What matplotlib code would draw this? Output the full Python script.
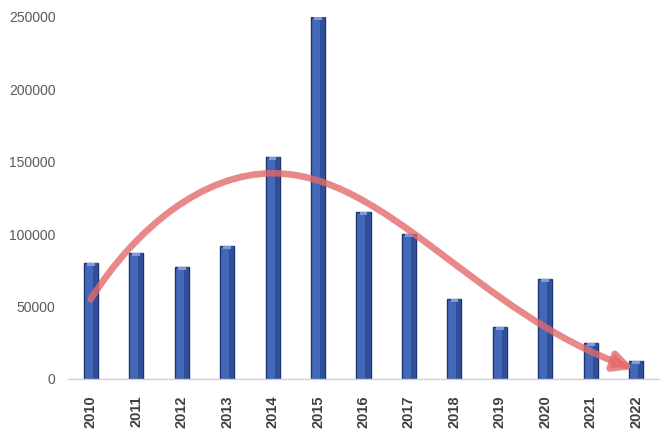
import matplotlib.pyplot as plt
from matplotlib.patches import FancyArrowPatch
from matplotlib.path import Path

years = ['2010', '2011', '2012', '2013', '2014', '2015', '2016',
         '2017', '2018', '2019', '2020', '2021', '2022']
values = [80000, 87000, 77500, 92000, 153000, 250000, 115500,
          100000, 55000, 35500, 69000, 25000, 12500]
y_ticks = [0, 50000, 100000, 150000, 200000, 250000]

# trend arrow drawn as two cubic bezier pieces (x in category index)
trend_pts = [(0.0, 55000), (1.0, 105000), (2.5, 142000), (4.0, 142000),
             (6.5, 142000), (8.5, 45000), (11.95, 7000)]

BAR_FACE = '#4468B8'
BAR_EDGE = '#1D3270'

plt.rcParams['font.family'] = ['Liberation Sans', 'DejaVu Sans']

fig = plt.figure(figsize=(6.67, 4.34), dpi=100)
ax = fig.add_axes([0.102, 0.127, 0.886, 0.834])

x = range(len(years))
width = 0.31
ax.bar(x, values, width=width, color=BAR_FACE, edgecolor=BAR_EDGE,
       linewidth=1.0, zorder=2)
# darker right side and a faint top bevel for a bit of depth
ax.bar([i + width * 0.32 for i in x], values, width=width * 0.36,
       color='#2F4F99', linewidth=0, zorder=2)
ax.bar(x, [2000] * len(values), bottom=[v - 2000 for v in values],
       width=width * 0.55, color='#7F9AD8', linewidth=0, zorder=3)

codes = [Path.MOVETO] + [Path.CURVE4] * 6
arrow = FancyArrowPatch(path=Path(trend_pts, codes), arrowstyle='-|>',
                        mutation_scale=28, color='#E36A6A', alpha=0.8,
                        linewidth=4.8, zorder=4, joinstyle='round',
                        capstyle='round')
ax.add_patch(arrow)

ax.set_xlim(-0.5, len(years) - 0.5)
ax.set_ylim(0, 250000)
ax.set_xticks(list(x))
ax.set_xticklabels(years, rotation=90, fontsize=10.5, fontweight='bold',
                   color='#404040')
ax.set_yticks(y_ticks)
ax.set_yticklabels([str(t) for t in y_ticks], fontsize=10, color='#595959')
ax.tick_params(axis='both', length=0)
ax.tick_params(axis='x', pad=12)
ax.tick_params(axis='y', pad=9)

for side in ['top', 'right', 'left']:
    ax.spines[side].set_visible(False)
ax.spines['bottom'].set_color('#D0D0D0')
ax.spines['bottom'].set_linewidth(1.0)

plt.savefig('out.png', dpi=100)
